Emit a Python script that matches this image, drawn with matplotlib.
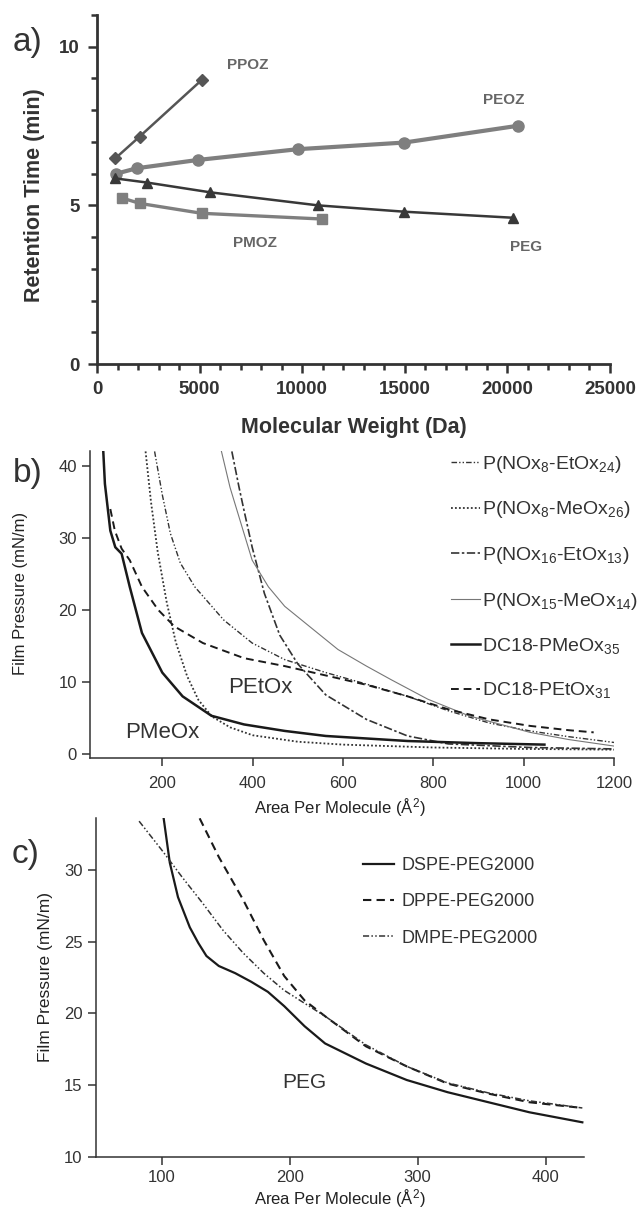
import matplotlib
matplotlib.use("Agg")
from matplotlib import pyplot as plt
from matplotlib.ticker import MultipleLocator

plt.rcParams['font.family'] = ['Liberation Sans', 'DejaVu Sans']
plt.rcParams['mathtext.fontset'] = 'custom'
plt.rcParams['mathtext.rm'] = 'Liberation Sans'
plt.rcParams['mathtext.it'] = 'Liberation Sans:italic'
plt.rcParams['mathtext.bf'] = 'Liberation Sans:bold'
plt.rcParams['mathtext.default'] = 'regular'

# panel a: retention time vs molecular weight
ppoz_mw = [890, 2080, 5100]
ppoz_rt = [6.48, 7.17, 8.95]
peoz_mw = [950, 1940, 4900, 9780, 14980, 20530]
peoz_rt = [6.0, 6.17, 6.43, 6.77, 6.98, 7.51]
peg_mw = [890, 2430, 5530, 10770, 14980, 20260]
peg_rt = [5.85, 5.72, 5.41, 5.0, 4.8, 4.61]
pmoz_mw = [1230, 2100, 5100, 10950]
pmoz_rt = [5.23, 5.06, 4.75, 4.57]

# panel b: isotherms of the oxazoline polymers
nox8_etox24_x = [183, 200, 218, 240, 272, 336, 399, 471, 562, 652, 743, 833, 924, 1014, 1100, 1200]
nox8_etox24_y = [42, 36, 30.6, 26.5, 23.2, 18.6, 15.4, 13.1, 11.3, 9.7, 8.0, 6.0, 4.3, 3.2, 2.4, 1.6]
nox8_meox26_x = [163, 175, 190, 210, 230, 255, 280, 310, 350, 400, 500, 600, 800, 1000, 1200]
nox8_meox26_y = [42, 35, 28, 21, 15.5, 10.8, 7.5, 5.2, 3.7, 2.6, 1.7, 1.3, 0.9, 0.7, 0.6]
nox16_etox13_x = [354, 370, 381, 399, 426, 460, 500, 562, 652, 743, 833, 1014, 1200]
nox16_etox13_y = [42, 37, 33.8, 28.7, 22.3, 16.5, 12.5, 8.2, 4.8, 2.5, 1.4, 0.9, 0.7]
nox15_meox14_x = [331, 350, 381, 399, 435, 471, 526, 589, 652, 707, 788, 879, 1014, 1100, 1200]
nox15_meox14_y = [42, 37, 30.6, 26.9, 23.2, 20.5, 17.7, 14.5, 12.2, 10.3, 7.6, 5.3, 3.0, 2.0, 1.1]
dc18_pmeox_x = [69, 73, 85, 96, 110, 128, 155, 200, 245, 309, 381, 471, 562, 743, 900, 1046]
dc18_pmeox_y = [42.5, 37.5, 31, 28.7, 27.8, 23.2, 16.8, 11.3, 8.0, 5.3, 4.1, 3.2, 2.5, 1.8, 1.5, 1.3]
dc18_petox_x = [85, 95, 110, 128, 155, 191, 227, 290, 381, 471, 562, 652, 743, 833, 924, 1014, 1100, 1155]
dc18_petox_y = [34, 31, 28.5, 26.9, 23.2, 20.0, 17.7, 15.4, 13.3, 12.2, 10.9, 9.6, 8.0, 6.2, 4.8, 3.9, 3.3, 3.0]

# panel c: PEG lipids
dspe_x = [101.6, 106.4, 112.8, 122, 128.7, 135, 144.7, 157.5, 170, 183, 195.8, 211.7, 227.7, 259.6, 291.5, 323.4, 355.3, 387.3, 428.7]
dspe_y = [33.6, 30.5, 28.1, 26.0, 24.9, 24.0, 23.3, 22.8, 22.2, 21.5, 20.5, 19.1, 17.9, 16.5, 15.35, 14.5, 13.8, 13.1, 12.4]
dppe_x = [129.7, 144.7, 163.8, 179.8, 195.8, 211.7, 227.7, 259.6, 291.5, 323.4, 355.3, 387.3, 428.7]
dppe_y = [33.6, 30.9, 27.9, 25.1, 22.6, 20.9, 19.8, 17.7, 16.3, 15.1, 14.4, 13.8, 13.4]
dmpe_x = [82.4, 100, 116, 131.9, 147.9, 163.8, 179.8, 195.8, 211.7, 227.7, 259.6, 291.5, 323.4, 355.3, 387.3, 428.7]
dmpe_y = [33.4, 31.4, 29.5, 27.7, 25.8, 24.2, 22.8, 21.6, 20.7, 19.8, 17.8, 16.3, 15.15, 14.45, 13.9, 13.4]

W, H = 639, 1211
fig = plt.figure(figsize=(W / 100, H / 100), dpi=100)


def box(l, r, t, b):
    return [l / W, 1 - b / H, (r - l) / W, (b - t) / H]


# ---- a) ----
ax = fig.add_axes(box(97, 610, 15, 364))
ax.plot(ppoz_mw, ppoz_rt, color='#555555', lw=1.8, marker='D', ms=6)
ax.plot(peoz_mw, peoz_rt, color='#7f7f7f', lw=3, marker='o', ms=8)
ax.plot(peg_mw, peg_rt, color='#383838', lw=1.8, marker='^', ms=7)
ax.plot(pmoz_mw, pmoz_rt, color='#7f7f7f', lw=2.4, marker='s', ms=7)
for name, x, y in [('PPOZ', 7350, 9.42), ('PEOZ', 19800, 8.32),
                   ('PMOZ', 7700, 3.82), ('PEG', 20900, 3.7)]:
    ax.text(x, y, name, color='#666666', fontsize=11, fontweight='bold',
            ha='center', va='center')
ax.set_xlim(0, 25000)
ax.set_ylim(0, 11)
ax.xaxis.set_major_locator(MultipleLocator(5000))
ax.xaxis.set_minor_locator(MultipleLocator(1000))
ax.yaxis.set_major_locator(MultipleLocator(5))
ax.yaxis.set_minor_locator(MultipleLocator(1))
for s in ['top', 'right']:
    ax.spines[s].set_visible(False)
for s in ['left', 'bottom']:
    ax.spines[s].set_linewidth(2)
    ax.spines[s].set_color('#333333')
ax.tick_params(which='both', width=1.8, color='#333333', labelcolor='#333333')
ax.tick_params(which='major', length=6.5, labelsize=13.5, pad=6)
ax.tick_params(which='minor', length=4.5)
for lab in ax.get_xticklabels() + ax.get_yticklabels():
    lab.set_fontweight('bold')
ax.set_xlabel('Molecular Weight (Da)', fontsize=15.5, fontweight='bold', color='#333333')
ax.set_ylabel('Retention Time (min)', fontsize=15.5, fontweight='bold', color='#333333')
ax.xaxis.set_label_coords(0.5, -0.152)
ax.yaxis.set_label_coords(-0.101, 0.484)

# ---- b) ----
bx = fig.add_axes(box(90, 614, 450.7, 758.3))
bx.plot(nox8_etox24_x, nox8_etox24_y, color='#333333', lw=1.0,
        ls=(0, (4, 1.5, 1, 1.5, 1, 1.5)), label='P(NOx$_8$-EtOx$_{24}$)')
bx.plot(nox8_meox26_x, nox8_meox26_y, color='#333333', lw=1.3,
        ls=(0, (1, 1.2)), label='P(NOx$_8$-MeOx$_{26}$)')
bx.plot(nox16_etox13_x, nox16_etox13_y, color='#333333', lw=1.2,
        ls=(0, (5, 1.5, 1.5, 1.5)), label='P(NOx$_{16}$-EtOx$_{13}$)')
bx.plot(nox15_meox14_x, nox15_meox14_y, color='#777777', lw=0.8,
        label='P(NOx$_{15}$-MeOx$_{14}$)')
bx.plot(dc18_pmeox_x, dc18_pmeox_y, color='#1a1a1a', lw=1.8,
        label='DC18-PMeOx$_{35}$')
bx.plot(dc18_petox_x, dc18_petox_y, color='#1a1a1a', lw=1.4,
        ls=(0, (4, 2.5)), label='DC18-PEtOx$_{31}$')
bx.text(200, 3.0, 'PMeOx', fontsize=16, color='#333333', ha='center', va='center')
bx.text(417, 9.2, 'PEtOx', fontsize=16, color='#333333', ha='center', va='center')
bx.set_xlim(40, 1200)
bx.set_ylim(-0.6, 42.1)
bx.set_xticks([200, 400, 600, 800, 1000, 1200])
bx.set_yticks([0, 10, 20, 30, 40])
bx.legend(loc='upper left', bbox_to_anchor=(451 / W, 1 - 454 / H),
          bbox_transform=fig.transFigure, frameon=False, fontsize=14,
          handlelength=1.5, handletextpad=0.1, labelspacing=1.26,
          borderpad=0, borderaxespad=0, labelcolor='#333333')
bx.set_xlabel('Area Per Molecule (Å$^2$)', fontsize=12, color='#222222')
bx.set_ylabel('Film Pressure (mN/m)', fontsize=12, color='#222222')
bx.xaxis.set_label_coords(0.477, -0.124)
bx.yaxis.set_label_coords(-0.118, 0.537)

# ---- c) ----
cx = fig.add_axes(box(95.7, 584, 818.3, 1157.3))
cx.plot(dspe_x, dspe_y, color='#1a1a1a', lw=1.6, label='DSPE-PEG2000')
cx.plot(dppe_x, dppe_y, color='#1a1a1a', lw=1.5, ls=(0, (4, 2.5)), label='DPPE-PEG2000')
cx.plot(dmpe_x, dmpe_y, color='#333333', lw=1.1,
        ls=(0, (4, 1.5, 1, 1.5, 1, 1.5)), label='DMPE-PEG2000')
cx.text(211.7, 15.2, 'PEG', fontsize=15, color='#333333', ha='center', va='center')
cx.set_xlim(48.5, 430)
cx.set_ylim(9.96, 33.6)
cx.set_xticks([100, 200, 300, 400])
cx.set_yticks([10, 15, 20, 25, 30])
cx.legend(loc='upper left', bbox_to_anchor=(363 / W, 1 - 857 / H),
          bbox_transform=fig.transFigure, frameon=False, fontsize=13,
          handlelength=1.7, handletextpad=0.45, labelspacing=1.07,
          borderpad=0, borderaxespad=0, labelcolor='#333333')
cx.set_xlabel('Area Per Molecule (Å$^2$)', fontsize=12, color='#222222')
cx.set_ylabel('Film Pressure (mN/m)', fontsize=12.5, color='#222222')
cx.xaxis.set_label_coords(0.5, -0.09)
cx.yaxis.set_label_coords(-0.088, 0.533)

for a in [bx, cx]:
    for s in ['top', 'right']:
        a.spines[s].set_visible(False)
    for s in ['left', 'bottom']:
        a.spines[s].set_linewidth(1.1)
        a.spines[s].set_color('#333333')
    a.tick_params(length=5.5, width=1.1, color='#333333', labelsize=12,
                  labelcolor='#333333', pad=4)
bx.tick_params(axis='x', pad=7)

fig.text(13 / W, 1 - 42 / H, 'a)', fontsize=24, color='#333333', va='center')
fig.text(13 / W, 1 - 473 / H, 'b)', fontsize=24, color='#333333', va='center')
fig.text(12 / W, 1 - 854 / H, 'c)', fontsize=24, color='#333333', va='center')

fig.savefig('out.png', dpi=100)
